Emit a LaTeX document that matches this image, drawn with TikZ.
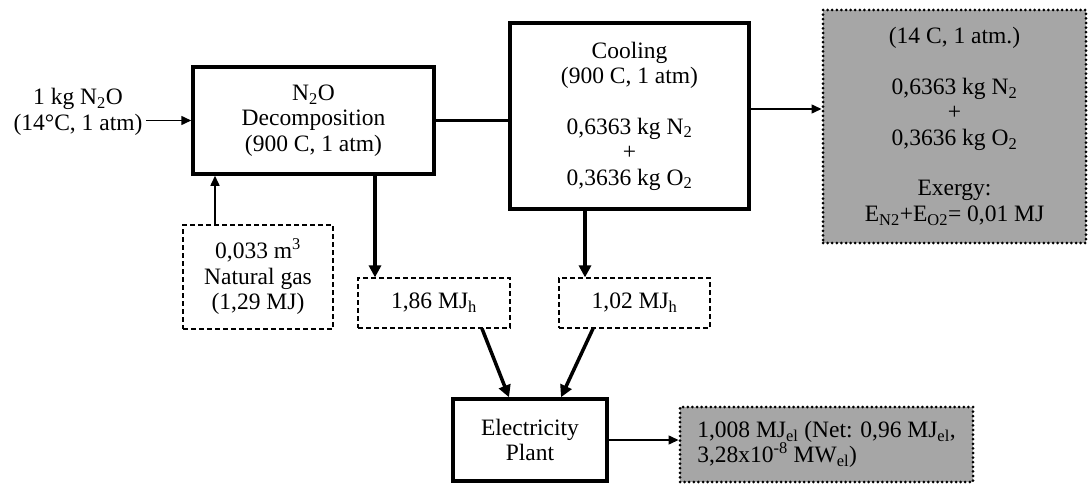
\documentclass[tikz,border=0pt]{standalone}
\usepackage{fontspec}
\setmainfont{Liberation Serif}
\usetikzlibrary{arrows.meta}
\definecolor{boxgrey}{RGB}{166,166,166}

\begin{document}
\begin{tikzpicture}[x=1pt, y=-1pt, line join=miter,
    every node/.style={font=\fontsize{23.5}{25.5}\selectfont, align=center},
    proc/.style={draw, line width=3.5pt, inner sep=0pt},
    dashbox/.style={draw, line width=1.2pt, dash pattern=on 5pt off 3pt, inner sep=0pt},
    greybox/.style={draw, fill=boxgrey, line width=3pt, line cap=round, dash pattern=on 0pt off 4.6pt, inner sep=0pt},
    flow/.style={line width=1.5pt, -{Triangle[length=10pt, width=9pt]}},
    bar/.style={line width=3.5pt},
    heat/.style={line width=3.5pt, -{Triangle[length=12pt, width=12pt]}}]
    \useasboundingbox (0,0) rectangle (1089,484);

    % --- 1. Feed and decomposition ---
    \node (feed) at (78,112) {1 kg N\textsubscript{2}O\\(14°C, 1 atm)};
    \node[proc, minimum width=241pt, minimum height=107pt] (decomp) at (313.5,120.5)
        {N\textsubscript{2}O\\Decomposition\\(900 C, 1 atm)};
    \draw[flow] (feed.east |- decomp.west) -- (decomp.west);

    % --- 2. Cooling ---
    \node[proc, minimum width=239pt, minimum height=186pt] (cool) at (629.5,116)
        {Cooling\\(900 C, 1 atm)\\[25pt]0,6363 kg N\textsubscript{2}\\+\\0,3636 kg O\textsubscript{2}};
    \draw[bar] (decomp.east) -- (decomp.east -| cool.west);

    % --- 3. Exhaust gas ---
    \node[greybox, minimum width=263pt, minimum height=233pt] (exhaust) at (954.5,126.5)
        {(14 C, 1 atm.)\\[25pt]0,6363 kg N\textsubscript{2}\\+\\0,3636 kg O\textsubscript{2}\\[25pt]Exergy:\\E\textsubscript{N2}+E\textsubscript{O2}= 0,01 MJ};
    \coordinate (out) at ([yshift=7pt]cool.east);
    \draw[flow] (out) -- (out -| exhaust.west);

    % --- 4. Natural gas ---
    \node[dashbox, minimum width=150pt, minimum height=104pt] (gas) at (258,277)
        {0,033 m\textsuperscript{3}\\Natural gas\\(1,29 MJ)};
    \coordinate (g) at ([xshift=-43pt]gas.north);
    \draw[flow] (g) -- (g |- decomp.south);

    % --- 5. Recovered heat ---
    \node[dashbox, minimum width=152pt, minimum height=50pt] (heatA) at (434,303) {1,86 MJ\textsubscript{h}};
    \node[dashbox, minimum width=151pt, minimum height=50pt] (heatB) at (634.5,303) {1,02 MJ\textsubscript{h}};
    \coordinate (hA) at ([xshift=-59pt]heatA.north);
    \coordinate (hB) at ([xshift=-49.5pt]heatB.north);
    \draw[heat] (hA |- decomp.south) -- (hA);
    \draw[heat] (hB |- cool.south) -- (hB);

    % --- 6. Electricity plant ---
    \node[proc, minimum width=154pt, minimum height=82pt] (plant) at (530,440) {Electricity\\Plant};
    \draw[heat] ([xshift=48pt]heatA.south) -- ([xshift=-21pt]plant.north);
    \draw[heat] ([xshift=-41.5pt]heatB.south) -- ([xshift=31pt]plant.north);

    \node[greybox, minimum width=293pt, minimum height=75pt, align=left] (power) at (826.5,444.5)
        {1,008 MJ\textsubscript{el} (Net: 0,96 MJ\textsubscript{el},\\3,28x10\textsuperscript{-8} MW\textsubscript{el})};
    \draw[flow] (plant.east) -- (plant.east -| power.west);
\end{tikzpicture}
\end{document}
